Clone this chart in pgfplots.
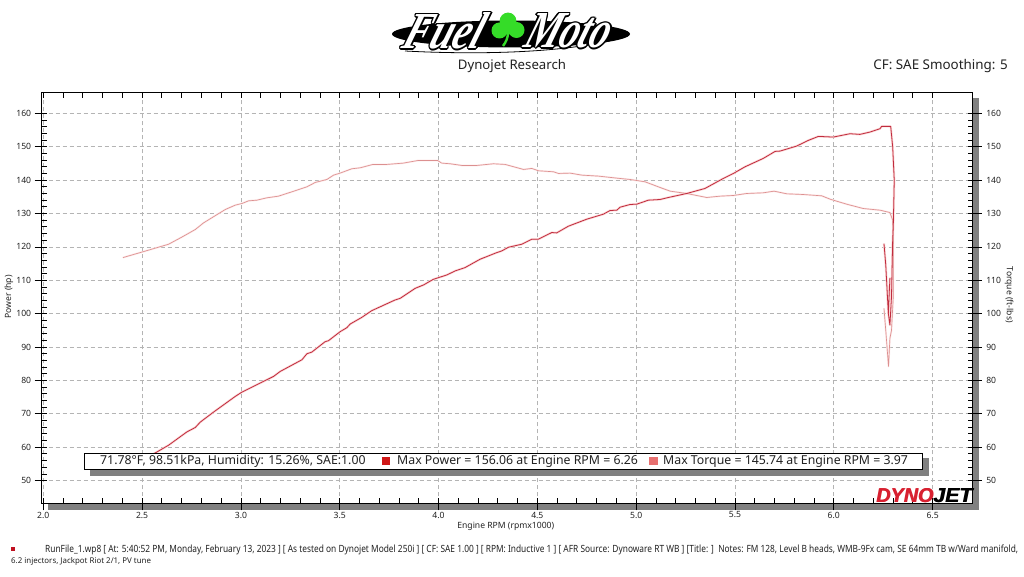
\documentclass[border=0pt]{standalone}
\usepackage{fontspec}
\usepackage{pgfplots}
\pgfplotsset{compat=1.18}
\setmainfont{Noto Sans}
\newfontfamily\logofont{Liberation Serif}
\newfontfamily\dynofont{Liberation Sans}
\definecolor{powerc}{HTML}{C02C3E}
\definecolor{powerh}{HTML}{FBD6D6}
\definecolor{torquec}{HTML}{DC9090}
\definecolor{torqueh}{HTML}{FDE8E8}
\definecolor{shadegray}{HTML}{808080}
\definecolor{gridc}{HTML}{B4B4B4}
\definecolor{txt}{HTML}{222222}
\definecolor{legp}{HTML}{D01818}
\definecolor{legt}{HTML}{E87070}
\definecolor{dynor}{HTML}{D82030}
\definecolor{foot}{HTML}{C01020}
\definecolor{clover}{HTML}{35DC28}
\pgfplotstableread{
x y
2.403 53.4
2.500 56.4
2.567 58.3
2.634 60.6
2.727 64.6
2.769 65.9
2.794 67.5
2.861 70.5
2.971 75.2
3.005 76.5
3.165 81.2
3.199 82.7
3.309 86.2
3.334 88.0
3.359 88.5
3.426 91.6
3.443 91.9
3.502 94.6
3.536 95.8
3.553 96.9
3.612 98.9
3.662 100.9
3.780 104.1
3.806 104.6
3.882 107.6
3.924 108.6
3.974 110.3
4.042 111.6
4.084 112.8
4.134 113.8
4.210 116.3
4.295 118.3
4.320 118.8
4.354 119.9
4.421 120.8
4.472 122.3
4.505 122.3
4.573 124.3
4.598 124.2
4.657 126.2
4.750 128.3
4.834 129.8
4.868 130.9
4.902 131.0
4.919 131.9
4.969 132.7
5.003 132.8
5.062 134.0
5.121 134.2
5.163 134.8
5.256 136.0
5.348 137.5
5.441 140.5
5.492 142.0
5.551 144.0
5.643 146.5
5.703 148.6
5.728 148.7
5.812 150.2
5.871 151.9
5.922 153.1
5.998 152.9
6.082 153.9
6.132 153.7
6.183 154.4
6.234 155.4
6.242 156.1
6.288 156.1
6.298 150.0
6.306 140.0
6.301 126.0
6.298 122.0
6.292 105.0
6.284 96.6
6.276 100.1
6.284 110.6
6.276 100.1
6.263 114.6
6.254 121.0
}\powertable
\pgfplotstableread{
x y
2.403 116.8
2.502 118.5
2.634 120.8
2.700 122.9
2.769 125.2
2.811 127.2
2.921 131.2
2.971 132.5
3.005 133.0
3.039 133.8
3.081 134.0
3.131 134.7
3.190 135.2
3.258 136.5
3.334 138.0
3.376 139.3
3.435 140.2
3.469 141.5
3.502 142.1
3.561 143.4
3.604 143.7
3.668 144.7
3.738 144.7
3.822 145.1
3.898 145.9
3.995 145.9
4.016 145.1
4.059 144.9
4.118 144.4
4.194 144.4
4.278 144.9
4.337 144.7
4.430 143.2
4.472 143.5
4.506 142.8
4.582 142.5
4.607 142.0
4.666 142.1
4.725 141.5
4.810 141.2
4.902 140.6
4.969 140.2
5.045 139.5
5.121 137.8
5.172 136.7
5.256 136.0
5.357 134.8
5.424 135.2
5.492 135.4
5.559 136.0
5.643 136.2
5.698 136.7
5.762 135.9
5.844 135.7
5.939 135.3
5.981 134.3
6.065 132.8
6.149 131.5
6.234 131.0
6.284 130.3
6.298 128.0
6.301 122.0
6.301 105.0
6.292 95.0
6.284 92.6
6.277 84.2
6.284 92.6
6.277 84.2
6.263 95.0
6.254 101.6
}\torquetable
\pgfplotsset{
  dyno/.style={
    at={(41.7pt,72.7pt)},anchor=south west,
    width=931pt,height=410.3pt,scale only axis,
    xmin=1.992,xmax=6.703,ymin=43.2,ymax=166.1,
    xtick={2,2.5,3,3.5,4,4.5,5,5.5,6,6.5},
    ytick={50,60,...,160},
    axis line style={black,line width=1pt},
    tick style={black,line width=0.8pt},
    /pgf/number format/assume math mode=true,
    tick label style={font=\fontsize{8.6}{10}\selectfont,text=txt},
    xticklabel style={/pgf/number format/fixed,/pgf/number format/fixed zerofill,/pgf/number format/precision=1},
  }
}
\begin{document}
\begin{tikzpicture}[x=1pt,y=1pt]
\path[use as bounding box,fill=white] (0,0) rectangle (1024,576);
% frame shadow
\fill[shadegray] (48,66) rectangle (979,73);
\fill[shadegray] (973,66) rectangle (979,478);
% logo
\begin{scope}
\fill[black] (511,542) ellipse (119 and 13.5);
\draw[black,line width=0.8pt] (405,525) .. controls (480,521) and (570,523) .. (625,539);
\foreach \dx/\dy in {-1.4/0,1.4/0,0/-1.4,0/1.4,-1/-1,1/1,-1/1,1/-1}{
  \node[text=black,xslant=0.35,transform shape] at (446+\dx,545+\dy) {\resizebox{78pt}{36pt}{\logofont\bfseries\itshape Fuel}};
  \node[text=black,xslant=0.35,transform shape] at (570+\dx,545+\dy) {\resizebox{84pt}{34pt}{\logofont\bfseries\itshape Moto}};
}
\node[text=white,xslant=0.35,transform shape] at (446,545) {\resizebox{78pt}{36pt}{\logofont\bfseries\itshape Fuel}};
\node[text=white,xslant=0.35,transform shape] at (570,545) {\resizebox{84pt}{34pt}{\logofont\bfseries\itshape Moto}};
\draw[clover,line width=2.4pt] (508,544) .. controls (508,538) and (506,534) .. (503,530);
\fill[clover] (508,555) circle (8.4);
\fill[clover] (499.5,545.5) circle (8);
\fill[clover] (516.5,546) circle (8);
\fill[clover] (508,546) circle (5);
\end{scope}
\node[text=txt] at (512,510) {\fontsize{13.2}{15}\selectfont Dynojet Research};
\node[text=txt,anchor=east,inner sep=0pt] at (1008,510) {\fontsize{13.4}{15}\selectfont CF: SAE Smoothing: 5};
% main axis: grid, inner ticks, curves
\begin{axis}[dyno,
  grid=major,
  major grid style={gridc,dash pattern=on 4pt off 3pt,line width=0.7pt},
  tick align=inside,
  major tick length=5pt,minor tick length=5pt,
  minor x tick num=4,minor y tick num=4,
  xticklabels={},yticklabels={},
  clip=true]
\addplot[torqueh,line width=1.8pt,line join=round] table {\torquetable};
\addplot[powerh,line width=2.2pt,line join=round] table {\powertable};
\addplot[torquec,line width=0.65pt,line join=round] table {\torquetable};
\addplot[powerc,line width=0.8pt,line join=round] table {\powertable};
\end{axis}
% outer ticks + left and bottom labels
\begin{axis}[dyno,
  tick align=outside,
  major tick length=7pt,
  axis x line*=bottom,axis y line*=left,
  x axis line style={-},y axis line style={-},
  xtick pos=bottom,ytick pos=left,
  xticklabel style={yshift=2pt},
  yticklabel style={xshift=0pt},
  xlabel={Engine RPM (rpmx1000)},
  xlabel style={font=\fontsize{8.6}{10}\selectfont,text=txt,at={(axis description cs:0.4985,0)},anchor=center,yshift=-22.7pt},
  ylabel={Power (hp)},
  ylabel style={font=\fontsize{8.6}{10}\selectfont,text=txt,at={(axis description cs:0,0.503)},anchor=center,yshift=32.7pt}]
\end{axis}
% right side ticks + labels
\begin{axis}[dyno,
  tick align=outside,
  major tick length=9pt,
  axis x line=none,
  axis y line*=right,
  y axis line style={-},
  ytick pos=right,
  yticklabel pos=right,
  yticklabel style={xshift=1pt},
  ylabel={Torque (ft-lbs)},
  ylabel style={font=\fontsize{8.6}{10}\selectfont,text=txt,rotate=180,at={(axis description cs:1,0.508)},anchor=center,yshift=36.3pt}]
\end{axis}
% info box
\fill[shadegray] (90,100.3) rectangle (929,118);
\draw[black,fill=white,line width=1pt] (84.5,106.7) rectangle (922.5,122.7);
\node[anchor=west,text=txt,inner sep=0pt] at (100,114.5) {\fontsize{12.3}{14}\selectfont 71.78°F, 98.51kPa, Humidity: 15.26\%, SAE:1.00};
\fill[legp] (381.5,111) rectangle (390,119.5);
\node[anchor=west,text=txt,inner sep=0pt] at (397,114.5) {\fontsize{12.3}{14}\selectfont Max Power = 156.06 at Engine RPM = 6.26};
\fill[legt] (649,111) rectangle (657.5,119.5);
\node[anchor=west,text=txt,inner sep=0pt] at (663,114.5) {\fontsize{12.3}{14}\selectfont Max Torque = 145.74 at Engine RPM = 3.97};
% dynojet logo
\foreach \dx in {0,0.7}{
\node[text=dynor,inner sep=0pt,anchor=west] at (876+\dx,80) {\resizebox{57pt}{14pt}{\dynofont\bfseries\itshape DYNO}};
\node[text=black,inner sep=0pt,anchor=west] at (933+\dx,80) {\resizebox{39pt}{14pt}{\dynofont\bfseries\itshape JET}};
}
% footer
\fill[foot] (11,25.5) rectangle (15,29.5);
\node[anchor=west,text=txt,inner sep=0pt] at (45,26) {\resizebox{973pt}{7.6pt}{\fontsize{7}{8}\selectfont RunFile\_1.wp8 [ At: 5:40:52 PM, Monday, February 13, 2023 ] [ As tested on Dynojet Model 250i ] [ CF: SAE 1.00 ] [ RPM: Inductive 1 ] [ AFR Source: Dynoware RT WB ] [Title: ]\ \ Notes: FM 128, Level B heads, WMB-9Fx cam, SE 64mm TB w/Ward manifold,}};
\node[anchor=west,text=txt,inner sep=0pt] at (11,15) {\fontsize{7.9}{9}\selectfont 6.2 injectors, Jackpot Riot 2/1, PV tune};
\end{tikzpicture}
\end{document}
